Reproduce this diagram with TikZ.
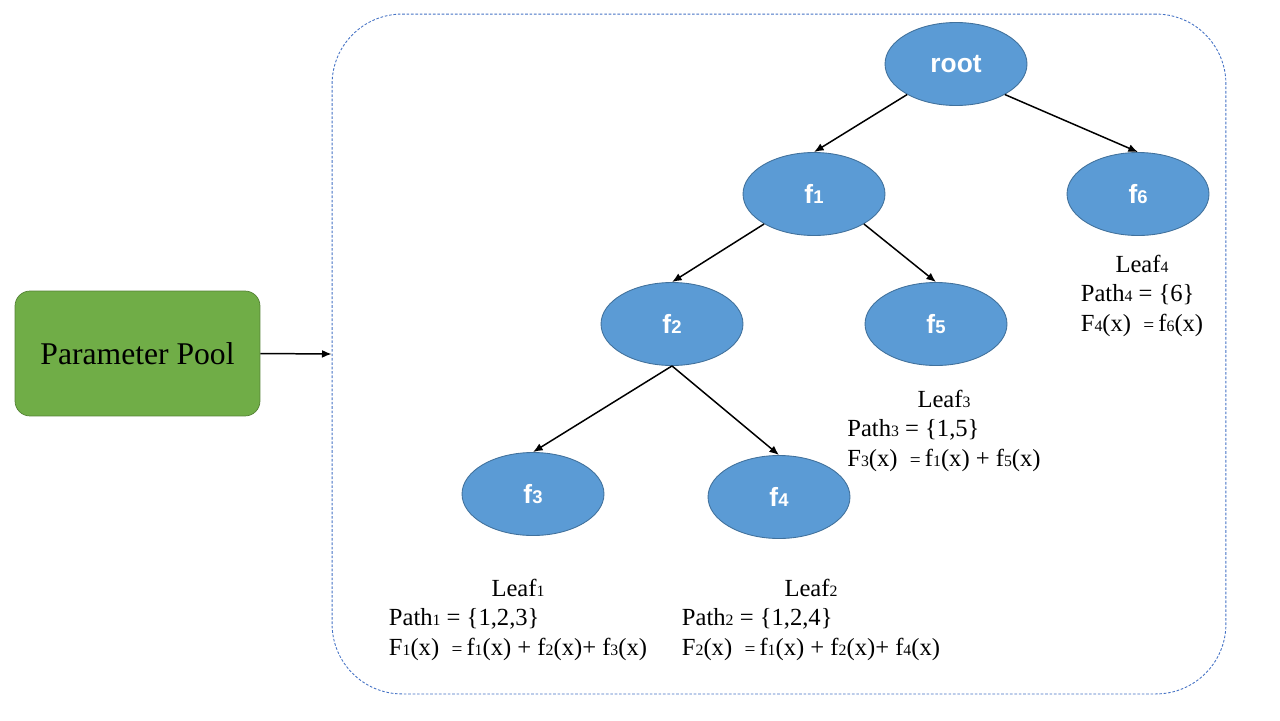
\documentclass[tikz,border=0pt]{standalone}
\usepackage{fontspec}
\setmainfont{Liberation Serif}
\newfontfamily\arialfont{Liberation Sans}
\usetikzlibrary{shapes.geometric,arrows.meta}
\definecolor{nodeblue}{RGB}{91,155,213}
\definecolor{nodeedge}{RGB}{65,113,156}
\definecolor{poolgreen}{RGB}{112,173,71}
\definecolor{pooledge}{RGB}{84,130,53}
\definecolor{boxblue}{RGB}{68,114,196}
% small digit on the baseline, as in the labels
\newcommand\lsub[1]{{\fontsize{9}{9}\selectfont #1}}
\newcommand\nsub[1]{{\fontsize{10.5}{10.5}\selectfont #1}}
\begin{document}
\begin{tikzpicture}[x={(0.02cm,0)}, y={(0,-0.02cm)},
    fnode/.style={ellipse, draw=nodeedge, fill=nodeblue, line width=0.5pt,
        minimum width=2.84cm, minimum height=1.66cm, inner sep=0pt,
        text=white, font=\arialfont\bfseries\fontsize{15}{15}\selectfont},
    leaftext/.style={inner sep=0pt, font=\fontsize{14}{17}\selectfont},
    edge/.style={-{Latex[length=5.5pt,width=4.5pt]}, line width=0.85pt}]
    \useasboundingbox (0,0) rectangle (1280,720);
    \node[draw=boxblue, line width=0.5pt, dash pattern=on 1.5pt off 1pt,
        rounded corners=1.4cm, minimum width=17.88cm, minimum height=13.6cm]
        (treebox) at (779,354) {};
    \node[draw=pooledge, fill=poolgreen, rounded corners=0.3cm,
        minimum width=4.9cm, minimum height=2.5cm,
        font=\fontsize{18}{18}\selectfont] (pool) at (137.5,353.5) {Parameter Pool};
    \draw[edge] (pool.east) -- (treebox.west);
    % the tree
    \node[fnode] (root) at (956,64) {root};
    \node[fnode] (f1) at (814,194) {f\nsub{1}};
    \node[fnode] (f6) at (1138,194) {f\nsub{6}};
    \node[fnode] (f2) at (672,324) {f\nsub{2}};
    \node[fnode] (f5) at (936,324) {f\nsub{5}};
    \node[fnode] (f3) at (533,494) {f\nsub{3}};
    \node[fnode] (f4) at (779,497) {f\nsub{4}};
    \draw[edge] (root.-148) -- (f1.north);
    \draw[edge] (root.-32) -- (f6.north);
    \draw[edge] (f1.-149) -- (f2.north);
    \draw[edge] (f1.-31) -- (f5.north);
    \draw[edge] (f2.south) -- (f3.north);
    \draw[edge] (f2.south) -- (f4.north);
    % leaves
    \node[leaftext] (leafA) at (518,620) {\begin{tabular}{@{}l@{}}
        \multicolumn{1}{@{}c@{}}{Leaf\lsub{1}}\\
        Path\lsub{1} = \{1,2,3\}\\
        F\lsub{1}(x)\ \ {\fontsize{11}{11}\selectfont=}\,f\lsub{1}(x) + f\lsub{2}(x)+ f\lsub{3}(x)
        \end{tabular}};
    \node[leaftext] (leafB) at (811,620) {\begin{tabular}{@{}l@{}}
        \multicolumn{1}{@{}c@{}}{Leaf\lsub{2}}\\
        Path\lsub{2} = \{1,2,4\}\\
        F\lsub{2}(x)\ \ {\fontsize{11}{11}\selectfont=}\,f\lsub{1}(x) + f\lsub{2}(x)+ f\lsub{4}(x)
        \end{tabular}};
    \node[leaftext] (leafC) at (944,431) {\begin{tabular}{@{}l@{}}
        \multicolumn{1}{@{}c@{}}{Leaf\lsub{3}}\\
        Path\lsub{3} = \{1,5\}\\
        F\lsub{3}(x)\ \ {\fontsize{11}{11}\selectfont=}\,f\lsub{1}(x) + f\lsub{5}(x)
        \end{tabular}};
    \node[leaftext] (leafD) at (1142,296) {\begin{tabular}{@{}l@{}}
        \multicolumn{1}{@{}c@{}}{Leaf\lsub{4}}\\
        Path\lsub{4} = \{6\}\\
        F\lsub{4}(x)\ \ {\fontsize{11}{11}\selectfont=}\,f\lsub{6}(x)
        \end{tabular}};
\end{tikzpicture}
\end{document}
